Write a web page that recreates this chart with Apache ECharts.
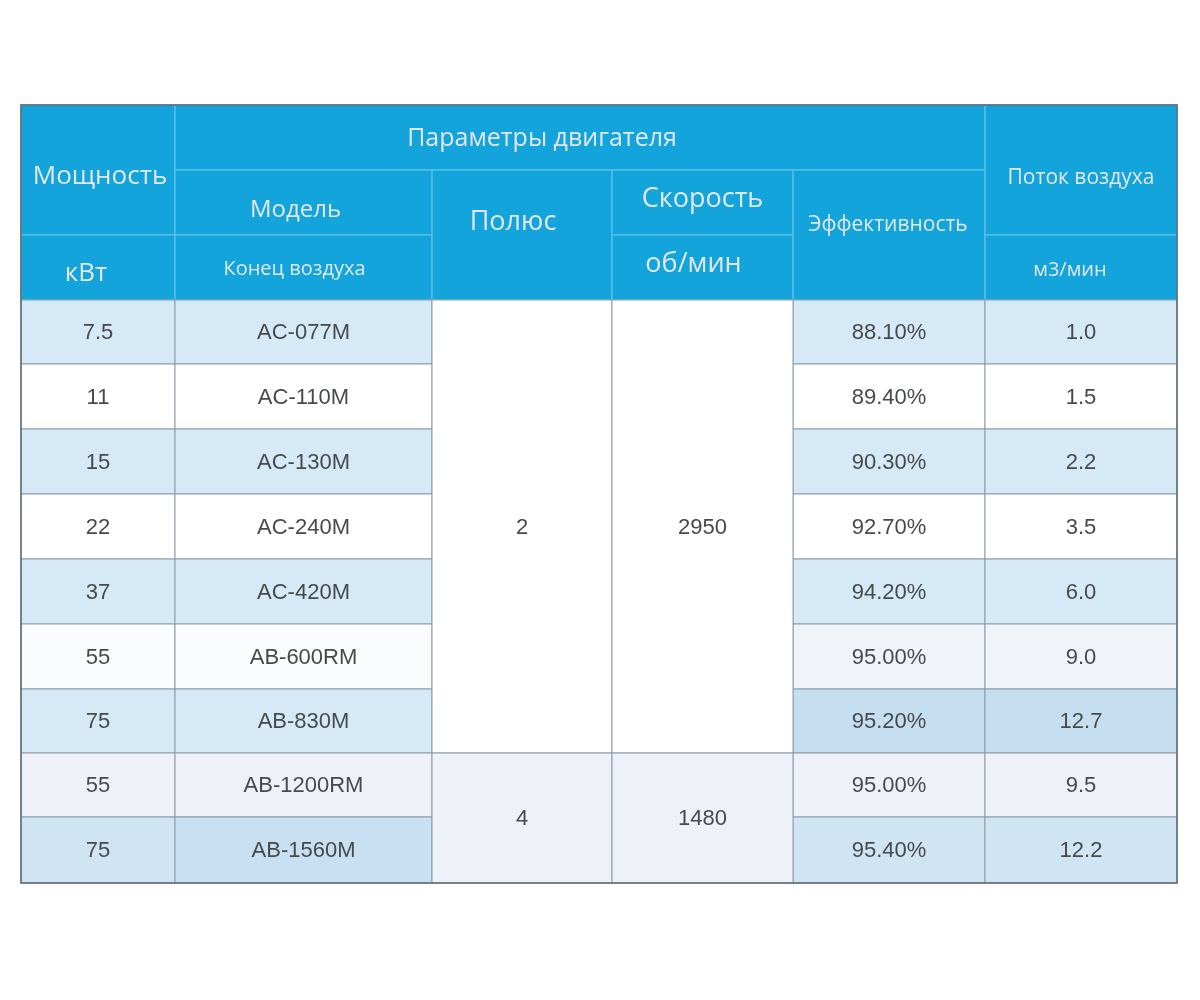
<!DOCTYPE html>
<html>
<head>
<meta charset="utf-8">
<script src="https://cdn.jsdelivr.net/npm/echarts@6/dist/echarts.min.js"></script>
<style>html,body{margin:0;padding:0;background:#fff;}#main{width:1200px;height:1000px;}</style>
</head>
<body>
<div id="main"></div>
<script>
// ---- data ----
var power = ['7.5', '11', '15', '22', '37', '55', '75', '55', '75'];
var models = ['AC-077M', 'AC-110M', 'AC-130M', 'AC-240M', 'AC-420M', 'AB-600RM', 'AB-830M', 'AB-1200RM', 'AB-1560M'];
var poleGroups = [{ value: '2', from: 0, to: 6 }, { value: '4', from: 7, to: 8 }];
var speedGroups = [{ value: '2950', from: 0, to: 6 }, { value: '1480', from: 7, to: 8 }];
var efficiency = ['88.10%', '89.40%', '90.30%', '92.70%', '94.20%', '95.00%', '95.20%', '95.00%', '95.40%'];
var airflow = ['1.0', '1.5', '2.2', '3.5', '6.0', '9.0', '12.7', '9.5', '12.2'];

// header: [text, col0, col1, row0, row1, fontSize, dy, dx]
var headerCells = [
  ['Мощность', 0, 0, 0, 1, 26, 7, 2],
  ['кВт', 0, 0, 2, 2, 26, 6, -12],
  ['Параметры двигателя', 1, 4, 0, 0, 25, 1, -38],
  ['Модель', 1, 1, 1, 1, 24, 8, -8],
  ['Конец воздуха', 1, 1, 2, 2, 20, 2, -9],
  ['Полюс', 2, 2, 1, 2, 27, -13, -9],
  ['Скорость', 3, 3, 1, 1, 27, -3, 0],
  ['об/мин', 3, 3, 2, 2, 27, -3, -9],
  ['Эффективность', 4, 4, 1, 2, 21, -10, -1],
  ['Поток воздуха', 5, 5, 0, 1, 21, 8, 0],
  ['м3/мин', 5, 5, 2, 2, 20, 3, -11]
];

// ---- layout (table grid edges, axis units) ----
var colEdges = [21, 175, 432, 612, 793, 985, 1177];
var rowEdges = [105, 170, 235, 300, 364, 429, 494, 559, 624, 689, 753, 817, 883];
var HEADER_ROWS = 3;

function rowFill(r, c) {
  var blue = '#d5e9f6';
  if (r === 6 && c >= 4) return '#c6dff0';
  if (r === 8) return c === 1 ? '#c8e0f1' : '#cfe5f3';
  if (r % 2 === 0) return blue;
  if (r === 5) return c >= 4 ? '#f0f3f8' : '#fbfcfd';
  if (r === 7) return '#eef2f8';
  return '#ffffff';
}

// build items: [c0, c1, r0, r1, text, kind, fill, fontSize, dy, dx]
var items = [];
headerCells.forEach(function (h) {
  items.push([h[1], h[2], h[3], h[4], h[0], 'h', '#12a4db', h[5], h[6], h[7]]);
});
for (var i = 0; i < power.length; i++) {
  var r = i + HEADER_ROWS;
  items.push([0, 0, r, r, power[i], 'd', rowFill(i, 0), 22, 1, 0]);
  items.push([1, 1, r, r, models[i], 'd', rowFill(i, 1), 22, 1, 0]);
  items.push([4, 4, r, r, efficiency[i], 'd', rowFill(i, 4), 22, 1, 0]);
  items.push([5, 5, r, r, airflow[i], 'd', rowFill(i, 5), 22, 1, 0]);
}
poleGroups.forEach(function (g, k) {
  items.push([2, 2, g.from + HEADER_ROWS, g.to + HEADER_ROWS, g.value, 'd', k === 0 ? '#ffffff' : '#eef2f8', 22, 1, 0]);
});
speedGroups.forEach(function (g, k) {
  items.push([3, 3, g.from + HEADER_ROWS, g.to + HEADER_ROWS, g.value, 'd', k === 0 ? '#ffffff' : '#eef2f8', 22, 1, 0]);
});

var chart = echarts.init(document.getElementById('main'), null, { renderer: 'canvas' });

chart.setOption({
  backgroundColor: '#ffffff',
  animation: false,
  grid: { left: colEdges[0], width: colEdges[6] - colEdges[0], top: rowEdges[0], height: rowEdges[12] - rowEdges[0] },
  xAxis: { type: 'value', min: colEdges[0], max: colEdges[6], show: false },
  yAxis: { type: 'value', min: rowEdges[0], max: rowEdges[12], inverse: true, show: false },
  series: [{
    type: 'custom',
    data: items,
    encode: { x: 0, y: 2 },
    clip: false,
    renderItem: function (params, api) {
      var it = items[params.dataIndex];
      var p0 = api.coord([colEdges[it[0]], rowEdges[it[2]]]);
      var p1 = api.coord([colEdges[it[1] + 1], rowEdges[it[3] + 1]]);
      var isH = it[5] === 'h';
      var w = p1[0] - p0[0], h = p1[1] - p0[1];
      return {
        type: 'group',
        children: [
          {
            type: 'rect',
            shape: { x: p0[0], y: p0[1], width: w, height: h },
            style: {
              fill: it[6],
              stroke: isH ? '#55bfe8' : '#8d9ba7',
              lineWidth: isH ? 1.5 : 1
            }
          },
          {
            type: 'text',
            x: p0[0] + w / 2 + it[9],
            y: p0[1] + h / 2 + it[8],
            style: {
              text: it[4],
              fill: isH ? '#e4e7ea' : '#474a4d',
              fontSize: it[7],
              fontFamily: isH ? 'Open Sans' : 'Liberation Sans',
              align: 'center',
              verticalAlign: 'middle'
            }
          }
        ]
      };
    }
  }, {
    // outer frame of the table
    type: 'custom',
    data: [[0]],
    clip: false,
    z: 5,
    renderItem: function (params, api) {
      var a = api.coord([colEdges[0], rowEdges[0]]);
      var b = api.coord([colEdges[6], rowEdges[12]]);
      return {
        type: 'rect',
        shape: { x: a[0], y: a[1], width: b[0] - a[0], height: b[1] - a[1] },
        style: { fill: 'none', stroke: '#5d6872', lineWidth: 1.5 }
      };
    }
  }]
});
</script>
</body>
</html>
